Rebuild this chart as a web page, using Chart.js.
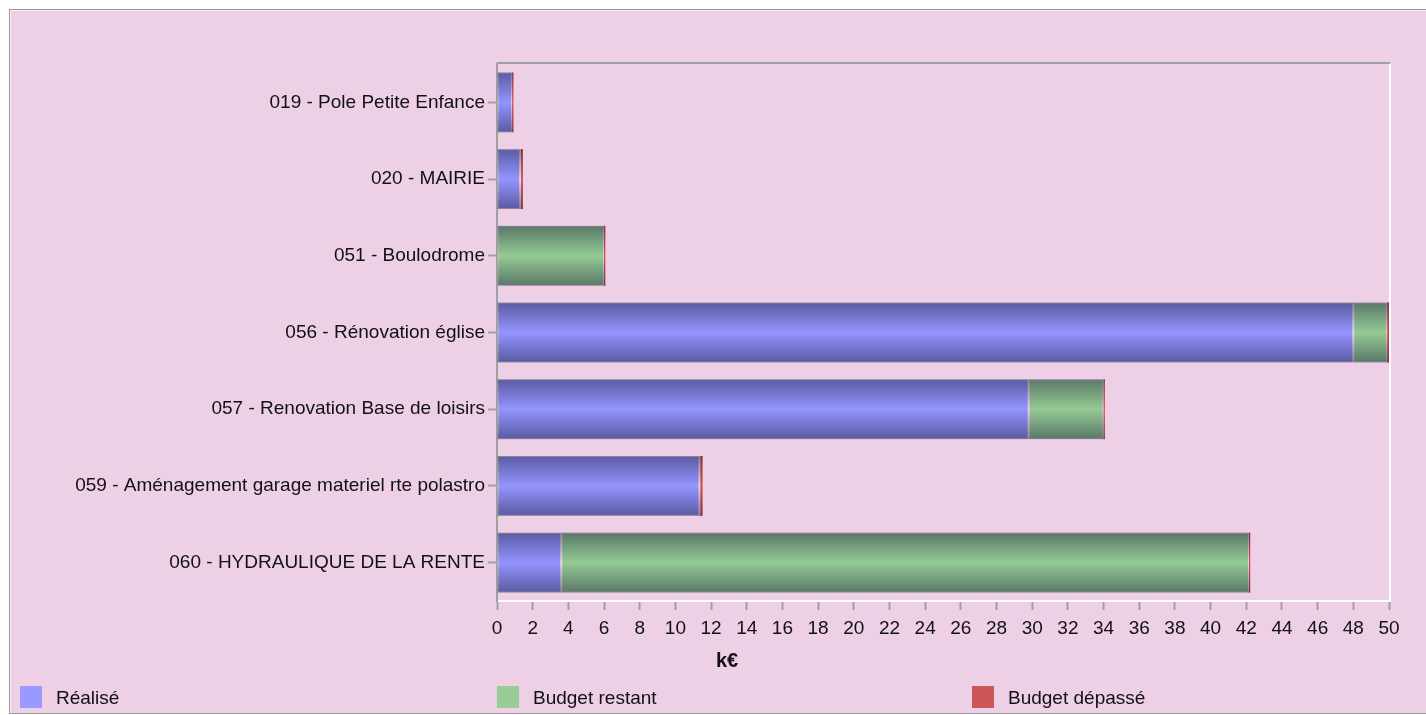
<!DOCTYPE html>
<html>
<head>
<meta charset="utf-8">
<script src="https://cdn.jsdelivr.net/npm/chart.js@4/dist/chart.umd.min.js"></script>
<style>
  html, body { margin:0; padding:0; background:#ffffff; }
  #wrap { position:absolute; left:0; top:0; width:1426px; height:715px; overflow:hidden; }
  #frame { position:absolute; left:9px; top:9px; width:1420px; height:703px;
           background:#edd0e6; border-left:1px solid #9a9a9a; border-top:1px solid #9a9a9a;
           border-bottom:1px solid #9a9a9a; box-shadow: inset 1px 1px 0 #f4f4f4; }
  #c { position:absolute; left:0; top:0; }
  .lg { position:absolute; top:686px; font:19px "Liberation Sans", Arial, sans-serif; color:#111; }
  .lg span.box { position:absolute; left:0; top:0; width:22px; height:22px; }
  .lg span.txt { position:absolute; left:36px; top:0; white-space:nowrap; line-height:24px; }
</style>
</head>
<body>
<div id="wrap">
  <div id="frame"></div>
  <canvas id="c" width="1426" height="715"></canvas>
  <div class="lg" style="left:20px"><span class="box" style="background:#9999ff"></span><span class="txt">Réalisé</span></div>
  <div class="lg" style="left:497px"><span class="box" style="background:#99cc99"></span><span class="txt">Budget restant</span></div>
  <div class="lg" style="left:972px"><span class="box" style="background:#cc5555"></span><span class="txt">Budget dépassé</span></div>
</div>
<script>
const categories = [
  '019 - Pole Petite Enfance',
  '020 - MAIRIE',
  '051 - Boulodrome',
  '056 - Rénovation église',
  '057 - Renovation Base de loisirs',
  '059 - Aménagement garage materiel rte polastro',
  '060 - HYDRAULIQUE DE LA RENTE'
];
const realise = [0.85, 1.3, 0, 48.0, 29.8, 11.35, 3.6];
const budgetRestant = [0, 0.05, 6.0, 1.9, 4.2, 0.05, 38.55];
const budgetDepasse = [0.07, 0.1, 0.07, 0.1, 0.07, 0.12, 0.07];
const seriesNames = ['Réalisé', 'Budget restant', 'Budget dépassé'];
const xMin = 0, xMax = 50, xStep = 2;
const axisTitle = 'k€';

const FONT = '"Liberation Sans", Arial, sans-serif';

const shadePlugin = {
  id: 'shade',
  afterDatasetsDraw(chart) {
    const ctx = chart.ctx;
    chart.data.datasets.forEach((ds, i) => {
      const meta = chart.getDatasetMeta(i);
      meta.data.forEach(el => {
        const p = el.getProps(['x', 'y', 'base', 'height'], true);
        const x0 = Math.min(p.x, p.base), x1 = Math.max(p.x, p.base);
        if (x1 - x0 < 0.5) return;
        const top = p.y - p.height / 2, bot = p.y + p.height / 2;
        const g = ctx.createLinearGradient(0, top, 0, bot);
        g.addColorStop(0, 'rgba(20,20,50,0.45)');
        g.addColorStop(0.5, 'rgba(20,20,50,0)');
        g.addColorStop(1, 'rgba(20,20,50,0.45)');
        ctx.save();
        ctx.fillStyle = g;
        ctx.fillRect(x0, top, x1 - x0, bot - top);
        ctx.restore();
      });
    });
  },
  afterDraw(chart) {
    const ctx = chart.ctx;
    const a = chart.chartArea;
    ctx.save();
    ctx.strokeStyle = '#a0a0a0';
    ctx.lineWidth = 2;
    ctx.beginPath();
    ctx.moveTo(a.left, a.top - 1);
    ctx.lineTo(a.right + 1, a.top - 1);
    ctx.stroke();
    ctx.strokeStyle = '#ffffff';
    ctx.beginPath();
    ctx.moveTo(a.right + 1, a.top);
    ctx.lineTo(a.right + 1, a.bottom + 1);
    ctx.stroke();
    const xs = chart.scales.x;
    ctx.fillStyle = '#111';
    ctx.font = 'bold 20px ' + FONT;
    ctx.textAlign = 'center';
    ctx.textBaseline = 'middle';
    ctx.fillText(axisTitle, xs.left + 230, 661);
    ctx.restore();
  }
};

new Chart(document.getElementById('c'), {
  type: 'bar',
  data: {
    labels: categories,
    datasets: [
      { label: seriesNames[0], data: realise, backgroundColor: '#9494ff' },
      { label: seriesNames[1], data: budgetRestant, backgroundColor: '#94ca94' },
      { label: seriesNames[2], data: budgetDepasse, backgroundColor: '#d84848', borderWidth: 0 }
    ]
  },
  options: {
    indexAxis: 'y',
    responsive: false,
    animation: false,
    devicePixelRatio: 1,
    layout: { padding: { left: 0, top: 64, right: 37, bottom: 54 } },
    datasets: {
      bar: {
        categoryPercentage: 0.78,
        barPercentage: 1,
        borderWidth: 1,
        borderColor: 'rgba(225,225,225,0.6)',
        borderSkipped: false
      }
    },
    plugins: { legend: { display: false }, tooltip: { enabled: false } },
    scales: {
      x: {
        stacked: true,
        min: xMin, max: xMax,
        afterFit(s) { s.height = 60; },
        afterBuildTicks(s) {
          const t = [];
          for (let v = xMin; v <= xMax; v += xStep) t.push({ value: v });
          s.ticks = t;
        },
        ticks: { color: '#111', font: { family: FONT, size: 19 }, padding: 7, maxRotation: 0, autoSkip: false },
        grid: { drawOnChartArea: false, drawTicks: true, tickLength: 9, tickColor: '#a0a0a0', tickWidth: 2 },
        border: { color: '#ffffff', width: 2 }
      },
      y: {
        stacked: true,
        afterFit(s) { s.width = 497; },
        ticks: { color: '#111', font: { family: FONT, size: 19 }, padding: 3, autoSkip: false },
        grid: { offset: false, drawOnChartArea: false, drawTicks: true, tickLength: 9, tickColor: '#a0a0a0', tickWidth: 2 },
        border: { color: '#a0a0a0', width: 2 }
      }
    }
  },
  plugins: [shadePlugin]
});
</script>
</body>
</html>
